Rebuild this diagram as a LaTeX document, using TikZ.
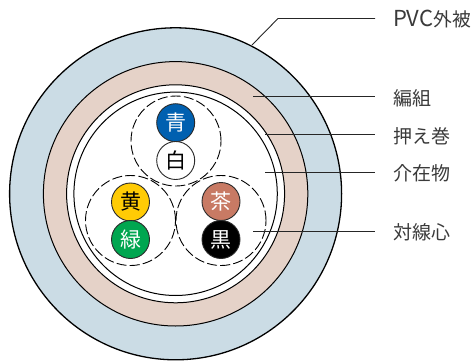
\documentclass[tikz,border=0pt]{standalone}
\usepackage{fontspec}
\setmainfont{Noto Sans CJK JP}
\definecolor{sheath}{HTML}{CBDCE5}
\definecolor{braid}{HTML}{E5D2C8}
\definecolor{cblue}{HTML}{0060B0}
\definecolor{cyellow}{HTML}{FFCB05}
\definecolor{cgreen}{HTML}{00A650}
\definecolor{cbrown}{HTML}{C87A64}
\definecolor{txt}{HTML}{3A3A3A}
\definecolor{edge}{HTML}{2A2A2A}
\tikzset{
  layer/.style={circle,draw=black,line width=#1,inner sep=0pt,outer sep=0pt},
  pair/.style={circle,draw=black,line width=0.9pt,dash pattern=on 10pt off 3.2pt,minimum size=90pt,inner sep=0pt,outer sep=0pt},
  core/.style={circle,draw=edge,line width=0.9pt,minimum size=38pt,inner sep=0pt,outer sep=0pt,font=\fontsize{21}{22}\selectfont},
  lab/.style={anchor=west,inner xsep=18pt,inner ysep=0pt,outer sep=0pt,text height=17pt,text depth=0pt,text=txt,font=\fontsize{19}{20}\selectfont},
  leader/.style={draw=black!85,line width=0.9pt},
}
\begin{document}
\begin{tikzpicture}[x=1pt,y=-1pt]
\useasboundingbox (0,0) rectangle (474,361);
\node[layer=1.3pt,fill=sheath,minimum size=332pt] (outer) at (175.6,193.8) {};
\node[layer=1pt,fill=braid,minimum size=264.4pt] (braid) at (175.6,193.8) {};
\node[layer=1pt,fill=white,minimum size=218pt] (tape) at (175.6,193.8) {};
\node[layer=1pt,fill=white,minimum size=203.4pt] (filler) at (175.6,193.8) {};
\node[pair] (p1) at (176,141) {};
\node[pair] (p2) at (130.5,220.5) {};
\node[pair] (p3) at (221,220.5) {};
\node[core,fill=cblue,text=white] (c1) at (175.7,122.7) {青};
\node[core,fill=white,text=black] (c2) at (175.7,160.5) {白};
\node[core,fill=cyellow,text=black] (c3) at (130.5,202) {黄};
\node[core,fill=cgreen,text=white] (c4) at (130.5,239.5) {緑};
\node[core,fill=cbrown,text=white] (c5) at (221,201.5) {茶};
\node[core,fill=black,text=white] (c6) at (221,239.5) {黒};
\node[lab] (l1) at (375,18.5) {\fontsize{22}{20}\selectfont PVC\fontsize{18.8}{20}\selectfont 外被};
\node[lab] (l2) at (375,96.5) {編組};
\node[lab] (l3) at (375,134.5) {押え巻};
\node[lab] (l4) at (375,172) {介在物};
\node[lab] (l5) at (375,231) {対線心};
\coordinate (f1) at (252,45);
\coordinate (k1) at (278,18.5);
\coordinate (f2) at (253,96.5);
\coordinate (f3) at (265,134.5);
\coordinate (f4) at (265,172);
\coordinate (f5) at (253,231);
\draw[leader] (f1) -- (k1) -- (l1.west);
\draw[leader] (f2) -- (l2.west);
\draw[leader] (f3) -- (l3.west);
\draw[leader] (f4) -- (l4.west);
\draw[leader] (f5) -- (l5.west);
\end{tikzpicture}
\end{document}
